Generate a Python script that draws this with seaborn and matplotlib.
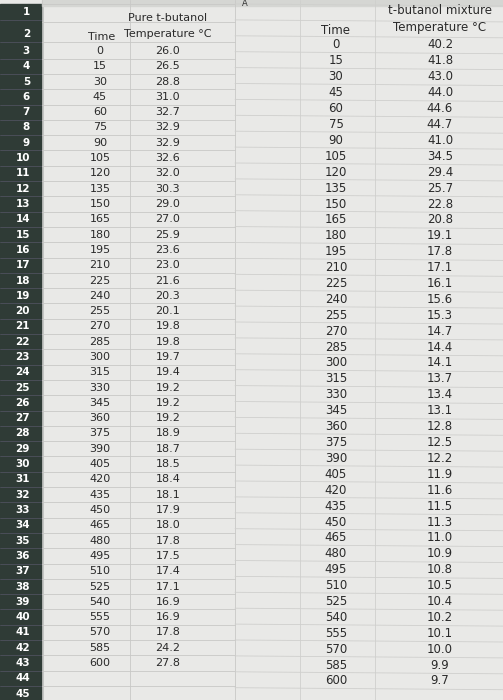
import numpy as np
import seaborn as sns
import matplotlib.pyplot as plt

sns.set_style("white")
plt.rcParams['font.family'] = ['DejaVu Sans']

# data read from the sheet
times = list(range(0, 601, 15))
pure_temp = [26.0, 26.5, 28.8, 31.0, 32.7, 32.9, 32.9, 32.6, 32.0, 30.3, 29.0, 27.0,
             25.9, 23.6, 23.0, 21.6, 20.3, 20.1, 19.8, 19.8, 19.7, 19.4, 19.2, 19.2,
             19.2, 18.9, 18.7, 18.5, 18.4, 18.1, 17.9, 18.0, 17.8, 17.5, 17.4, 17.1,
             16.9, 16.9, 17.8, 24.2, 27.8]
mix_temp = [40.2, 41.8, 43.0, 44.0, 44.6, 44.7, 41.0, 34.5, 29.4, 25.7, 22.8, 20.8,
            19.1, 17.8, 17.1, 16.1, 15.6, 15.3, 14.7, 14.4, 14.1, 13.7, 13.4, 13.1,
            12.8, 12.5, 12.2, 11.9, 11.6, 11.5, 11.3, 11.0, 10.9, 10.8, 10.5, 10.4,
            10.2, 10.1, 10.0, 9.9, 9.7]
row_numbers = list(range(1, 46))

fig = plt.figure(figsize=(5.03, 7.0), dpi=100)
ax = fig.add_axes([0, 0, 1, 1])
ax.set_xlim(0, 503)
ax.set_ylim(700, 0)
ax.axis("off")
fig.patch.set_facecolor("#e9e9e7")

row_h = 15.3
row_y = [12, 34] + [51 + i * row_h for i in range(43)]

# row header strip
ax.add_patch(plt.Rectangle((0, 4), 42, 696, color="#2f3b36"))
ax.add_patch(plt.Rectangle((42, 0), 461, 6, color="#d5d6d3"))
ax.text(245, 4, "A", ha="center", va="center", fontsize=6, color="#333")
for r, y in zip(row_numbers, row_y):
    ax.text(30, y, str(r), ha="right", va="center", fontsize=7.5,
            color="white", fontweight="bold")
    ax.plot([0, 42], [y + row_h / 2] * 2, color="#556", lw=0.5)

# grid lines of the left table
for y in [4, 22] + [y + row_h / 2 for y in row_y[1:]]:
    ax.plot([42, 235], [y, y], color="#c8c8c6", lw=0.6)
for x in [42, 130, 235]:
    ax.plot([x, x], [0, 700], color="#c8c8c6", lw=0.6)
# right table grid, slightly shifted like in the photo
row_h2 = 15.9
for i in range(44):
    y = 4 + i * row_h2
    ax.plot([235, 503], [y, y + 2], color="#cfcfcd", lw=0.6)
for x in [300, 375]:
    ax.plot([x, x], [0, 700], color="#cfcfcd", lw=0.6)

txt = "#2a2a2a"
fs = 8
ax.text(168, 18, "Pure t-butanol", ha="center", va="center", fontsize=fs, color=txt)
ax.text(168, 34, "Temperature °C", ha="center", va="center", fontsize=fs, color=txt)
ax.text(102, 37, "Time", ha="center", va="center", fontsize=fs, color=txt)
for y, t, v in zip(row_y[2:], times, pure_temp):
    ax.text(100, y, str(t), ha="center", va="center", fontsize=fs, color=txt)
    ax.text(168, y, f"{v:.1f}", ha="center", va="center", fontsize=fs, color=txt)

ax.text(440, 11, "t-butanol mixture", ha="center", va="center", fontsize=fs + 0.5, color=txt)
ax.text(440, 27, "Temperature °C", ha="center", va="center", fontsize=fs + 0.5, color=txt)
ax.text(336, 30, "Time", ha="center", va="center", fontsize=fs + 0.5, color=txt)
for i, (t, v) in enumerate(zip(times, mix_temp)):
    y = 45 + i * row_h2
    ax.text(336, y, str(t), ha="center", va="center", fontsize=fs + 0.5, color=txt)
    ax.text(440, y, f"{v:.1f}", ha="center", va="center", fontsize=fs + 0.5, color=txt)

fig.savefig("out.png", dpi=100)
